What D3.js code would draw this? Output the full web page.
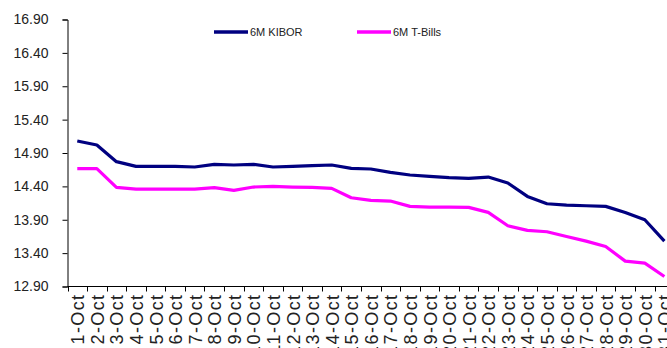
<!DOCTYPE html>
<html>
<head>
<meta charset="utf-8">
<script src="https://cdn.jsdelivr.net/npm/d3@7"></script>
<style>
  html, body { margin: 0; padding: 0; background: #fff; }
  svg { display: block; font-family: "Liberation Sans", Arial, sans-serif; }
</style>
</head>
<body>
<svg id="chart" width="667" height="348"></svg>
<script>
// Daily rates for October
const dates = d3.range(1, 32).map(d => d + "-Oct");
const kibor = [15.08, 15.02, 14.77, 14.70, 14.70, 14.70, 14.69, 14.73, 14.72, 14.73,
               14.69, 14.70, 14.71, 14.72, 14.67, 14.66, 14.61, 14.57, 14.55, 14.53,
               14.52, 14.54, 14.45, 14.25, 14.14, 14.12, 14.11, 14.10, 14.01, 13.90, 13.58];
const tbills = [14.665, 14.665, 14.385, 14.36, 14.36, 14.36, 14.36, 14.38, 14.34, 14.39,
                14.40, 14.39, 14.385, 14.37, 14.23, 14.19, 14.18, 14.10, 14.09, 14.09,
                14.085, 14.01, 13.81, 13.74, 13.72, 13.65, 13.58, 13.50, 13.28, 13.25, 13.05];
const yTicks = [12.90, 13.40, 13.90, 14.40, 14.90, 15.40, 15.90, 16.40, 16.90];
const seriesNames = ["6M KIBOR", "6M T-Bills"];
const seriesColors = ["#000080", "#ff00ff"];

const svg = d3.select("#chart");
const plotLeft = 67.5, plotTop = 19.5, plotBottom = 286.5, step = 19.57;

const x = d3.scaleBand().domain(dates).range([plotLeft, plotLeft + step * dates.length]).padding(0);
const y = d3.scaleLinear().domain([12.9, 16.9]).range([plotBottom, plotTop]);

// Y axis
const yAxis = svg.append("g")
  .attr("transform", `translate(${plotLeft},0)`)
  .call(d3.axisLeft(y).tickValues(yTicks).tickFormat(d3.format(".2f")).tickSize(5).tickPadding(14));
yAxis.select(".domain").attr("stroke", "#000");
yAxis.selectAll(".tick line").attr("stroke", "#000");
yAxis.selectAll("text").attr("font-size", 14).attr("fill", "#222");

// X axis: line, ticks at category boundaries, rotated labels at centres
const xg = svg.append("g").attr("transform", `translate(0,${plotBottom})`);
xg.append("line").attr("x1", plotLeft).attr("x2", 667).attr("stroke", "#000");
xg.selectAll("line.tk").data(dates).join("line").attr("class", "tk")
  .attr("x1", d => Math.round(x(d)) + 0.5).attr("x2", d => Math.round(x(d)) + 0.5)
  .attr("y1", 0).attr("y2", 5).attr("stroke", "#000");
xg.selectAll("text").data(dates).join("text")
  .attr("transform", d => `translate(${x(d) + x.bandwidth() / 2 + 0.5},7) rotate(-90)`)
  .attr("text-anchor", "end").attr("dy", "0.36em")
  .attr("font-size", 18).attr("letter-spacing", 1.4).attr("fill", "#222")
  .text(d => d);

// Lines
const line = d3.line().x((d, i) => x(dates[i]) + x.bandwidth() / 2).y(d => y(d));
[kibor, tbills].forEach((s, k) => {
  svg.append("path").datum(s)
    .attr("d", line).attr("fill", "none")
    .attr("stroke", seriesColors[k]).attr("stroke-width", 3.2)
    .attr("stroke-linejoin", "round");
});

// Legend
const legendX = [214, 357];
seriesNames.forEach((name, k) => {
  const g = svg.append("g").attr("transform", `translate(${legendX[k]},32)`);
  g.append("line").attr("x1", 0).attr("x2", 34).attr("stroke", seriesColors[k]).attr("stroke-width", 3.5);
  g.append("text").attr("x", 36).attr("dy", "0.35em").attr("font-size", 11).attr("fill", "#222").text(name);
});
</script>
</body>
</html>
